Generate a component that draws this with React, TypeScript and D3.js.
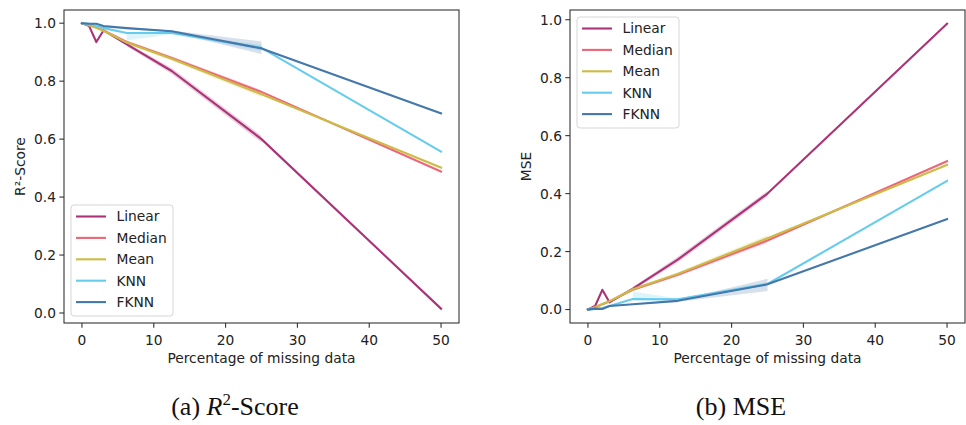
import React from 'react';
import * as d3 from 'd3';

// ---------- DATA ----------
const xValues = [0, 1, 2, 3, 6.25, 12.5, 25, 50];
const bandX = [6.25, 12.5, 25];
const seriesNames = ['Linear', 'Median', 'Mean', 'KNN', 'FKNN'];
const seriesColors = ['#AA3377', '#EE6677', '#CCBB44', '#66CCEE', '#4477AA'];
const xTicks = [0, 10, 20, 30, 40, 50];
const yTicks = [0, 0.2, 0.4, 0.6, 0.8, 1.0];

// R2-score
const linearR2 = [1.0, 0.99, 0.935, 0.975, 0.927, 0.835, 0.6, 0.015];
const medianR2 = [1.0, 0.993, 0.985, 0.975, 0.935, 0.88, 0.763, 0.488];
const meanR2 = [1.0, 0.993, 0.984, 0.974, 0.933, 0.877, 0.755, 0.502];
const knnR2 = [1.0, 0.998, 0.99, 0.983, 0.966, 0.966, 0.915, 0.557];
const fknnR2 = [1.0, 0.998, 0.998, 0.99, 0.983, 0.972, 0.913, 0.689];

const linearR2Lo = [0.92, 0.825, 0.588];
const linearR2Hi = [0.932, 0.845, 0.612];
const medianR2Lo = [0.93, 0.874, 0.757];
const medianR2Hi = [0.94, 0.886, 0.769];
const meanR2Lo = [0.927, 0.87, 0.745];
const meanR2Hi = [0.938, 0.884, 0.765];
const knnR2Lo = [0.94, 0.962, 0.905];
const knnR2Hi = [0.968, 0.968, 0.925];
const fknnR2Lo = [0.979, 0.969, 0.893];
const fknnR2Hi = [0.986, 0.975, 0.937];

// MSE
const linearMSE = [0, 0.012, 0.068, 0.025, 0.072, 0.172, 0.4, 0.986];
const medianMSE = [0, 0.008, 0.018, 0.028, 0.068, 0.12, 0.238, 0.512];
const meanMSE = [0, 0.008, 0.019, 0.029, 0.07, 0.123, 0.246, 0.499];
const knnMSE = [0, 0.002, 0.005, 0.012, 0.036, 0.035, 0.088, 0.444];
const fknnMSE = [0, 0.003, 0.002, 0.012, 0.018, 0.03, 0.087, 0.312];

const linearMSELo = [0.066, 0.162, 0.39];
const linearMSEHi = [0.078, 0.182, 0.41];
const medianMSELo = [0.064, 0.114, 0.23];
const medianMSEHi = [0.072, 0.126, 0.246];
const meanMSELo = [0.066, 0.117, 0.238];
const meanMSEHi = [0.074, 0.129, 0.256];
const knnMSELo = [0.033, 0.033, 0.082];
const knnMSEHi = [0.062, 0.038, 0.094];
const fknnMSELo = [0.016, 0.027, 0.064];
const fknnMSEHi = [0.02, 0.033, 0.106];

const r2Series = [linearR2, medianR2, meanR2, knnR2, fknnR2];
const r2Lo = [linearR2Lo, medianR2Lo, meanR2Lo, knnR2Lo, fknnR2Lo];
const r2Hi = [linearR2Hi, medianR2Hi, meanR2Hi, knnR2Hi, fknnR2Hi];
const mseSeries = [linearMSE, medianMSE, meanMSE, knnMSE, fknnMSE];
const mseLo = [linearMSELo, medianMSELo, meanMSELo, knnMSELo, fknnMSELo];
const mseHi = [linearMSEHi, medianMSEHi, meanMSEHi, knnMSEHi, fknnMSEHi];

const FONT = 'DejaVu Sans, sans-serif';
const FS = 13.8;
const SERIF = 'Liberation Serif, serif';

type PanelProps = {
  left: number; right: number; top: number; bottom: number;
  yDomain: [number, number];
  yLabel: string; yLabelX: number;
  series: number[][]; lo: number[][]; hi: number[][];
  legendTop: boolean;
};

function Panel(p: PanelProps) {
  const x = d3.scaleLinear().domain([-2.5, 52.5]).range([p.left, p.right]);
  const y = d3.scaleLinear().domain(p.yDomain).range([p.bottom, p.top]);
  const line = d3.line<[number, number]>().x(d => x(d[0])).y(d => y(d[1]));
  const clipId = 'clip' + p.left;
  const legW = 102, legH = 111, rowH = 21.4;
  const legX = p.left + 7;
  const legY = p.legendTop ? p.top + 7 : p.bottom - 7 - legH;
  return (
    <g>
      <defs>
        <clipPath id={clipId}>
          <rect x={p.left} y={p.top} width={p.right - p.left} height={p.bottom - p.top} />
        </clipPath>
      </defs>
      <g clipPath={`url(#${clipId})`}>
        {p.series.map((s, k) => {
          const a = d3.area<number>()
            .x((_, i) => x(bandX[i]))
            .y0((_, i) => y(p.lo[k][i]))
            .y1((_, i) => y(p.hi[k][i]));
          return <path key={'b' + k} d={a(bandX) || ''} fill={seriesColors[k]} fillOpacity={0.22} stroke="none" />;
        })}
        {p.series.map((s, k) => (
          <path key={'l' + k}
            d={line(xValues.map((xv, i) => [xv, s[i]] as [number, number])) || ''}
            fill="none" stroke={seriesColors[k]} strokeWidth={2.1} strokeLinejoin="round" strokeLinecap="square" />
        ))}
      </g>
      <rect x={p.left} y={p.top} width={p.right - p.left} height={p.bottom - p.top}
        fill="none" stroke="#333" strokeWidth={1.1} />
      {xTicks.map(t => (
        <g key={'xt' + t}>
          <line x1={x(t)} x2={x(t)} y1={p.bottom} y2={p.bottom + 4.7} stroke="#333" strokeWidth={1.1} />
          <text x={x(t)} y={p.bottom + 21.5} textAnchor="middle" fontFamily={FONT} fontSize={FS} fill="#222">{t}</text>
        </g>
      ))}
      {yTicks.map(t => (
        <g key={'yt' + t}>
          <line x1={p.left - 4.7} x2={p.left} y1={y(t)} y2={y(t)} stroke="#333" strokeWidth={1.1} />
          <text x={p.left - 8} y={y(t)} dy="0.36em" textAnchor="end" fontFamily={FONT} fontSize={FS} fill="#222">{t.toFixed(1)}</text>
        </g>
      ))}
      <text x={(p.left + p.right) / 2} y={p.bottom + 40} textAnchor="middle" fontFamily={FONT} fontSize={FS} fill="#222">Percentage of missing data</text>
      <text transform={`translate(${p.yLabelX},${(p.top + p.bottom) / 2}) rotate(-90)`} textAnchor="middle" fontFamily={FONT} fontSize={FS} fill="#222">{p.yLabel}</text>
      <rect x={legX} y={legY} width={legW} height={legH} rx={3} fill="white" fillOpacity={0.8} stroke="#d6d6d6" strokeWidth={1} />
      {seriesNames.map((n, k) => {
        const cy = legY + 11.5 + k * rowH;
        return (
          <g key={'lg' + k}>
            <line x1={legX + 5} x2={legX + 35} y1={cy} y2={cy} stroke={seriesColors[k]} strokeWidth={2.1} />
            <text x={legX + 45.5} y={cy} dy="0.36em" fontFamily={FONT} fontSize={FS} fill="#222">{n}</text>
          </g>
        );
      })}
    </g>
  );
}

export default function App() {
  return (
    <svg width={966} height={425} style={{ position: 'absolute', left: 0, top: 0, background: 'white' }}>
      <rect x={0} y={0} width={966} height={425} fill="white" />
      <Panel left={64} right={459} top={10} bottom={323} yDomain={[-0.0345, 1.0455]}
        yLabel="R²-Score" yLabelX={25} series={r2Series} lo={r2Lo} hi={r2Hi} legendTop={false} />
      <Panel left={570} right={965} top={10} bottom={323} yDomain={[-0.0465, 1.0335]}
        yLabel="MSE" yLabelX={531} series={mseSeries} lo={mseLo} hi={mseHi} legendTop={true} />
      <text x={235} y={415} textAnchor="middle" fontFamily={SERIF} fontSize={26} fill="#111">
        (a) <tspan fontStyle="italic">R</tspan><tspan fontSize={17} dy={-10}>2</tspan><tspan dy={10}>-Score</tspan>
      </text>
      <text x={741} y={415} textAnchor="middle" fontFamily={SERIF} fontSize={26} fill="#111">(b) MSE</text>
    </svg>
  );
}
